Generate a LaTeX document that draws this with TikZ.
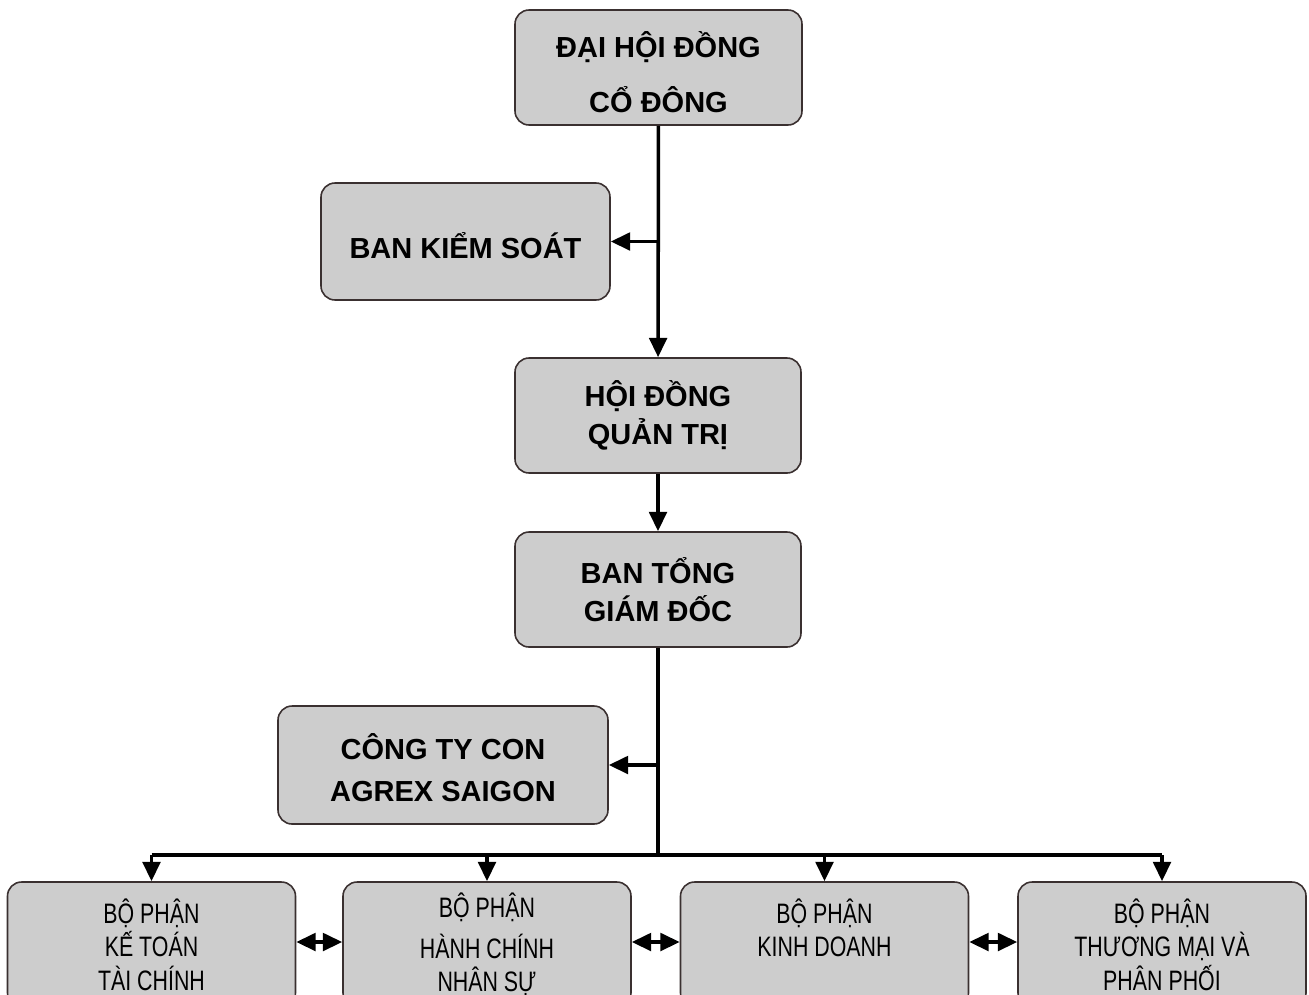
\documentclass[tikz,border=0pt]{standalone}
\usepackage{fontspec}
\setmainfont{Liberation Sans}
\newfontfamily\narrowfont{Liberation Sans}[FakeStretch=0.76]
\usetikzlibrary{arrows.meta, positioning, calc}
\definecolor{boxgray}{HTML}{CDCDCD}
\definecolor{boxline}{HTML}{3A3030}

\begin{document}
\begin{tikzpicture}[
  box/.style={rectangle, draw=boxline, line width=0.9pt, fill=boxgray, align=center, rounded corners=8pt, inner sep=0pt},
  topbox/.style={box, font=\fontsize{16.5}{19.8}\selectfont\bfseries},
  deptbox/.style={box, minimum width=5.76cm, minimum height=2.5cm, font=\fontsize{16}{19}\selectfont\narrowfont},
  arrow/.style={-{Triangle[length=11pt,width=10pt]}, line width=2pt},
  darrow/.style={{Triangle[length=11pt,width=10pt]}-{Triangle[length=11pt,width=10pt]}, line width=2pt},
  bus/.style={line width=2pt}
]
  \clip (0,0) rectangle (26.18,-19.88);

  \node[topbox, minimum width=5.74cm, minimum height=2.3cm] (dhdcd) at (13.17,-1.35) {\rule{0pt}{20pt}ĐẠI HỘI ĐỒNG\\[11pt]CỔ ĐÔNG};
  \node[topbox, minimum width=5.78cm, minimum height=2.34cm] (bks) at (9.31,-4.83) {\rule{0pt}{20pt}BAN KIỂM SOÁT};
  \node[topbox, minimum width=5.72cm, minimum height=2.3cm] (hdqt) at (13.16,-8.31) {HỘI ĐỒNG\\[2pt]QUẢN TRỊ};
  \node[topbox, minimum width=5.72cm, minimum height=2.3cm] (btgd) at (13.16,-11.79) {BAN TỔNG\\[2pt]GIÁM ĐỐC};
  \node[topbox, minimum width=6.6cm, minimum height=2.36cm] (ctcon) at (8.86,-15.3) {\rule{0pt}{18pt}CÔNG TY CON\\[4pt]AGREX SAIGON};

  \node[deptbox] (ketoan) at (3.03,-18.89) {BỘ PHẬN\\KẾ TOÁN\\TÀI CHÍNH};
  \node[deptbox] (hanhchinh) at (9.74,-18.89) {BỘ PHẬN\\[4pt]HÀNH CHÍNH\\NHÂN SỰ};
  \node[deptbox] (kinhdoanh) at (16.49,-18.89) {BỘ PHẬN\\KINH DOANH\\\mbox{}};
  \node[deptbox] (thuongmai) at (23.24,-18.89) {BỘ PHẬN\\THƯƠNG MẠI VÀ\\PHÂN PHỐI};

  \coordinate (busmid) at (btgd.south |- 0,-17.1);

  \draw[arrow] (dhdcd) -- (hdqt);
  \draw[arrow] (dhdcd.south |- bks.east) -- (bks.east);
  \draw[arrow] (hdqt) -- (btgd);
  \draw[bus] (btgd.south) -- (busmid);
  \draw[arrow] (btgd.south |- ctcon.east) -- (ctcon.east);

  \draw[bus] (ketoan.north |- busmid) -- (thuongmai.north |- busmid);
  \foreach \dept in {ketoan, hanhchinh, kinhdoanh, thuongmai}
    \draw[arrow] (\dept.north |- busmid) -- (\dept.north);

  \draw[darrow] ([yshift=0.05cm]ketoan.east) -- ([yshift=0.05cm]ketoan.east -| hanhchinh.west);
  \draw[darrow] ([yshift=0.05cm]hanhchinh.east) -- ([yshift=0.05cm]hanhchinh.east -| kinhdoanh.west);
  \draw[darrow] ([yshift=0.05cm]kinhdoanh.east) -- ([yshift=0.05cm]kinhdoanh.east -| thuongmai.west);
\end{tikzpicture}
\end{document}
